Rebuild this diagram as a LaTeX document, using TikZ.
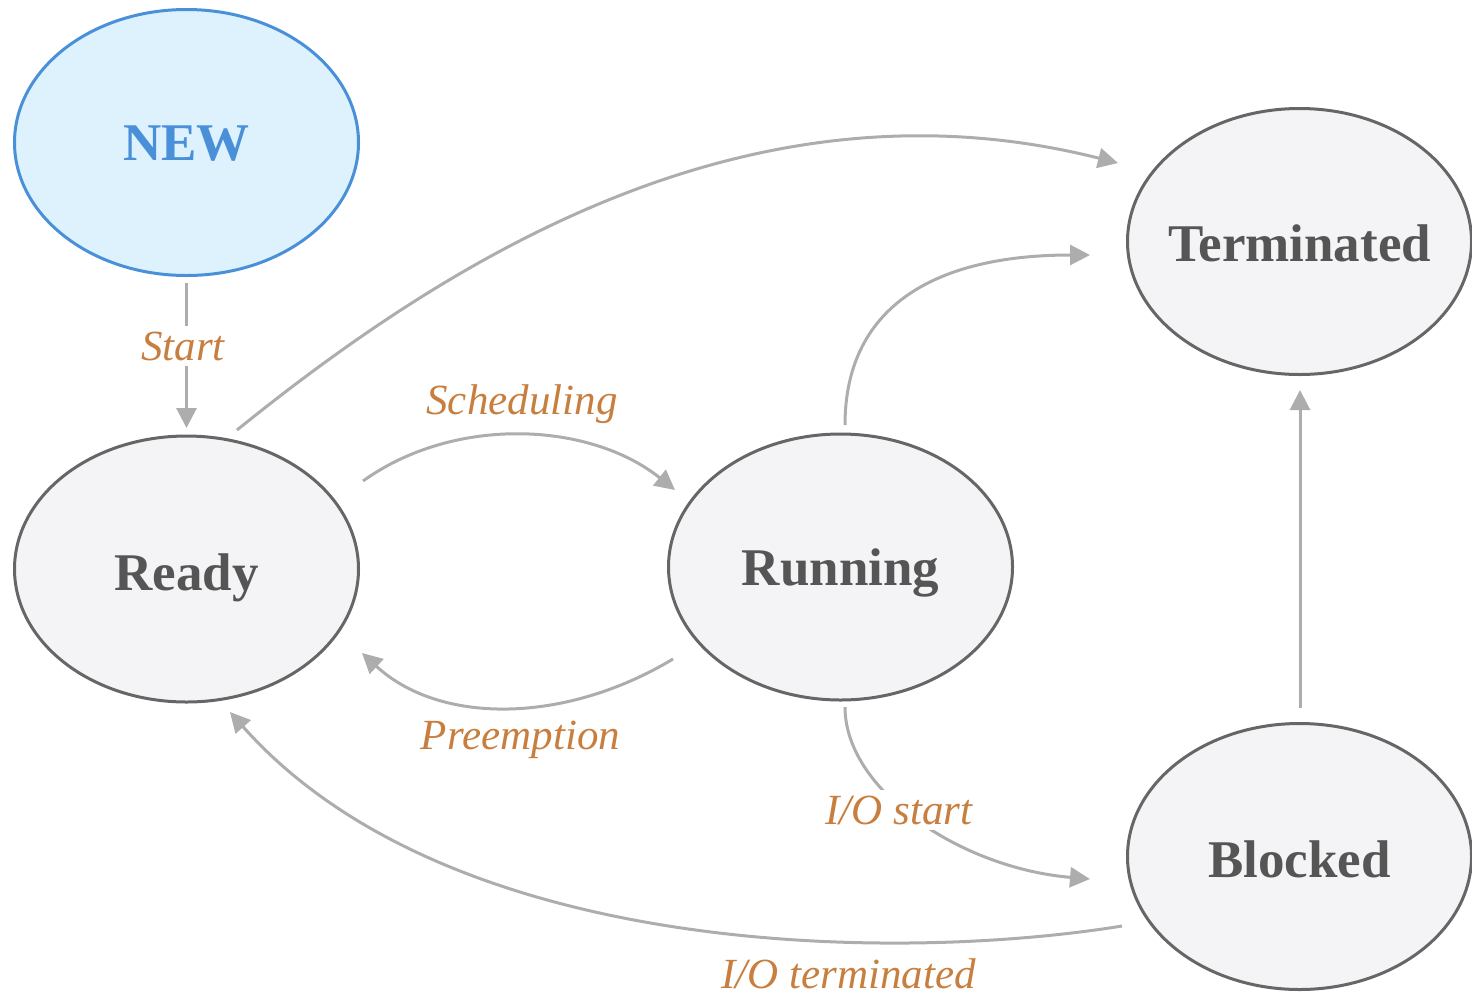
\documentclass[tikz,border=0pt]{standalone}
\usepackage{fontspec}
\setmainfont{Liberation Serif}
\usetikzlibrary{shapes.geometric,arrows.meta}
\definecolor{edgegray}{HTML}{ADADAD}
\definecolor{stateborder}{HTML}{666666}
\definecolor{statefill}{HTML}{F4F4F6}
\definecolor{statetext}{HTML}{555555}
\definecolor{newfill}{HTML}{DDF2FD}
\definecolor{newblue}{HTML}{4A90D9}
\definecolor{lblorange}{HTML}{C87E3F}
\begin{document}
\begin{tikzpicture}[x=0.5pt,y=-0.5pt,
  state/.style={ellipse, draw=stateborder, fill=statefill, line width=1.5pt,
    minimum width=172pt, minimum height=133pt, inner sep=0pt,
    font=\fontsize{26.5}{30}\selectfont\bfseries, text=statetext,
    text height=20pt, text depth=0pt},
  newstate/.style={state, draw=newblue, fill=newfill, text=newblue},
  edge/.style={draw=edgegray, line width=1.5pt, -{Triangle[length=10pt,width=10pt]}},
  lbl/.style={anchor=base, text=lblorange, font=\fontsize{21.5}{25}\selectfont\itshape, inner sep=3pt},
  gaplbl/.style={lbl, fill=white}
]
\useasboundingbox (0,0) rectangle (1472,997);

\node[newstate, text height=17.5pt] (new) at (186.5,142.5) {\makebox[0pt]{NEW}};
\node[state, text height=21pt] (ready) at (186.5,569) {\makebox[0pt]{Ready}};
\node[state, text height=18pt] (run) at (840.5,567) {\makebox[0pt]{Running}};
\node[state] (term) at (1299.5,241.5) {\makebox[0pt]{Terminated}};
\node[state, text height=21pt] (blocked) at (1299.5,856.5) {\makebox[0pt]{Blocked}};

\draw[edge] ([shift={(0,140.5)}]new.center) -- ([shift={(0,-141)}]ready.center);
\draw[edge] ([shift={(50.5,-139)}]ready.center) .. controls (450,258) and (750,70) .. ([shift={(-181.5,-78.5)}]term.center);
\draw[edge] ([shift={(176.5,-88)}]ready.center) .. controls (455,415) and (590,422) .. ([shift={(-165.5,-77)}]run.center);
\draw[edge] ([shift={(-167.5,92)}]run.center) .. controls (565,724) and (440,725) .. ([shift={(175.5,84)}]ready.center);
\draw[edge] ([shift={(4.5,-142)}]run.center) .. controls (845,310) and (930,255) .. ([shift={(-209.5,13.5)}]term.center);
\draw[edge] ([shift={(4.5,140)}]run.center) .. controls (845,790) and (960,868) .. ([shift={(-209.5,22.5)}]blocked.center);
\draw[edge] ([shift={(-177.5,69.5)}]blocked.center) .. controls (900,962) and (450,960) .. ([shift={(43.5,143)}]ready.center);
\draw[edge] ([shift={(0.5,-148.5)}]blocked.center) -- ([shift={(0.5,148.5)}]term.center);

\node[gaplbl] (lstart) at (183,360) {Start};
\node[lbl] (lsched) at (522,414) {Scheduling};
\node[lbl] (lpre) at (520.5,749) {Preemption};
\node[gaplbl] (lios) at (899,824) {I/O start};
\node[lbl] (liot) at (848.5,988) {I/O terminated};
\end{tikzpicture}
\end{document}
